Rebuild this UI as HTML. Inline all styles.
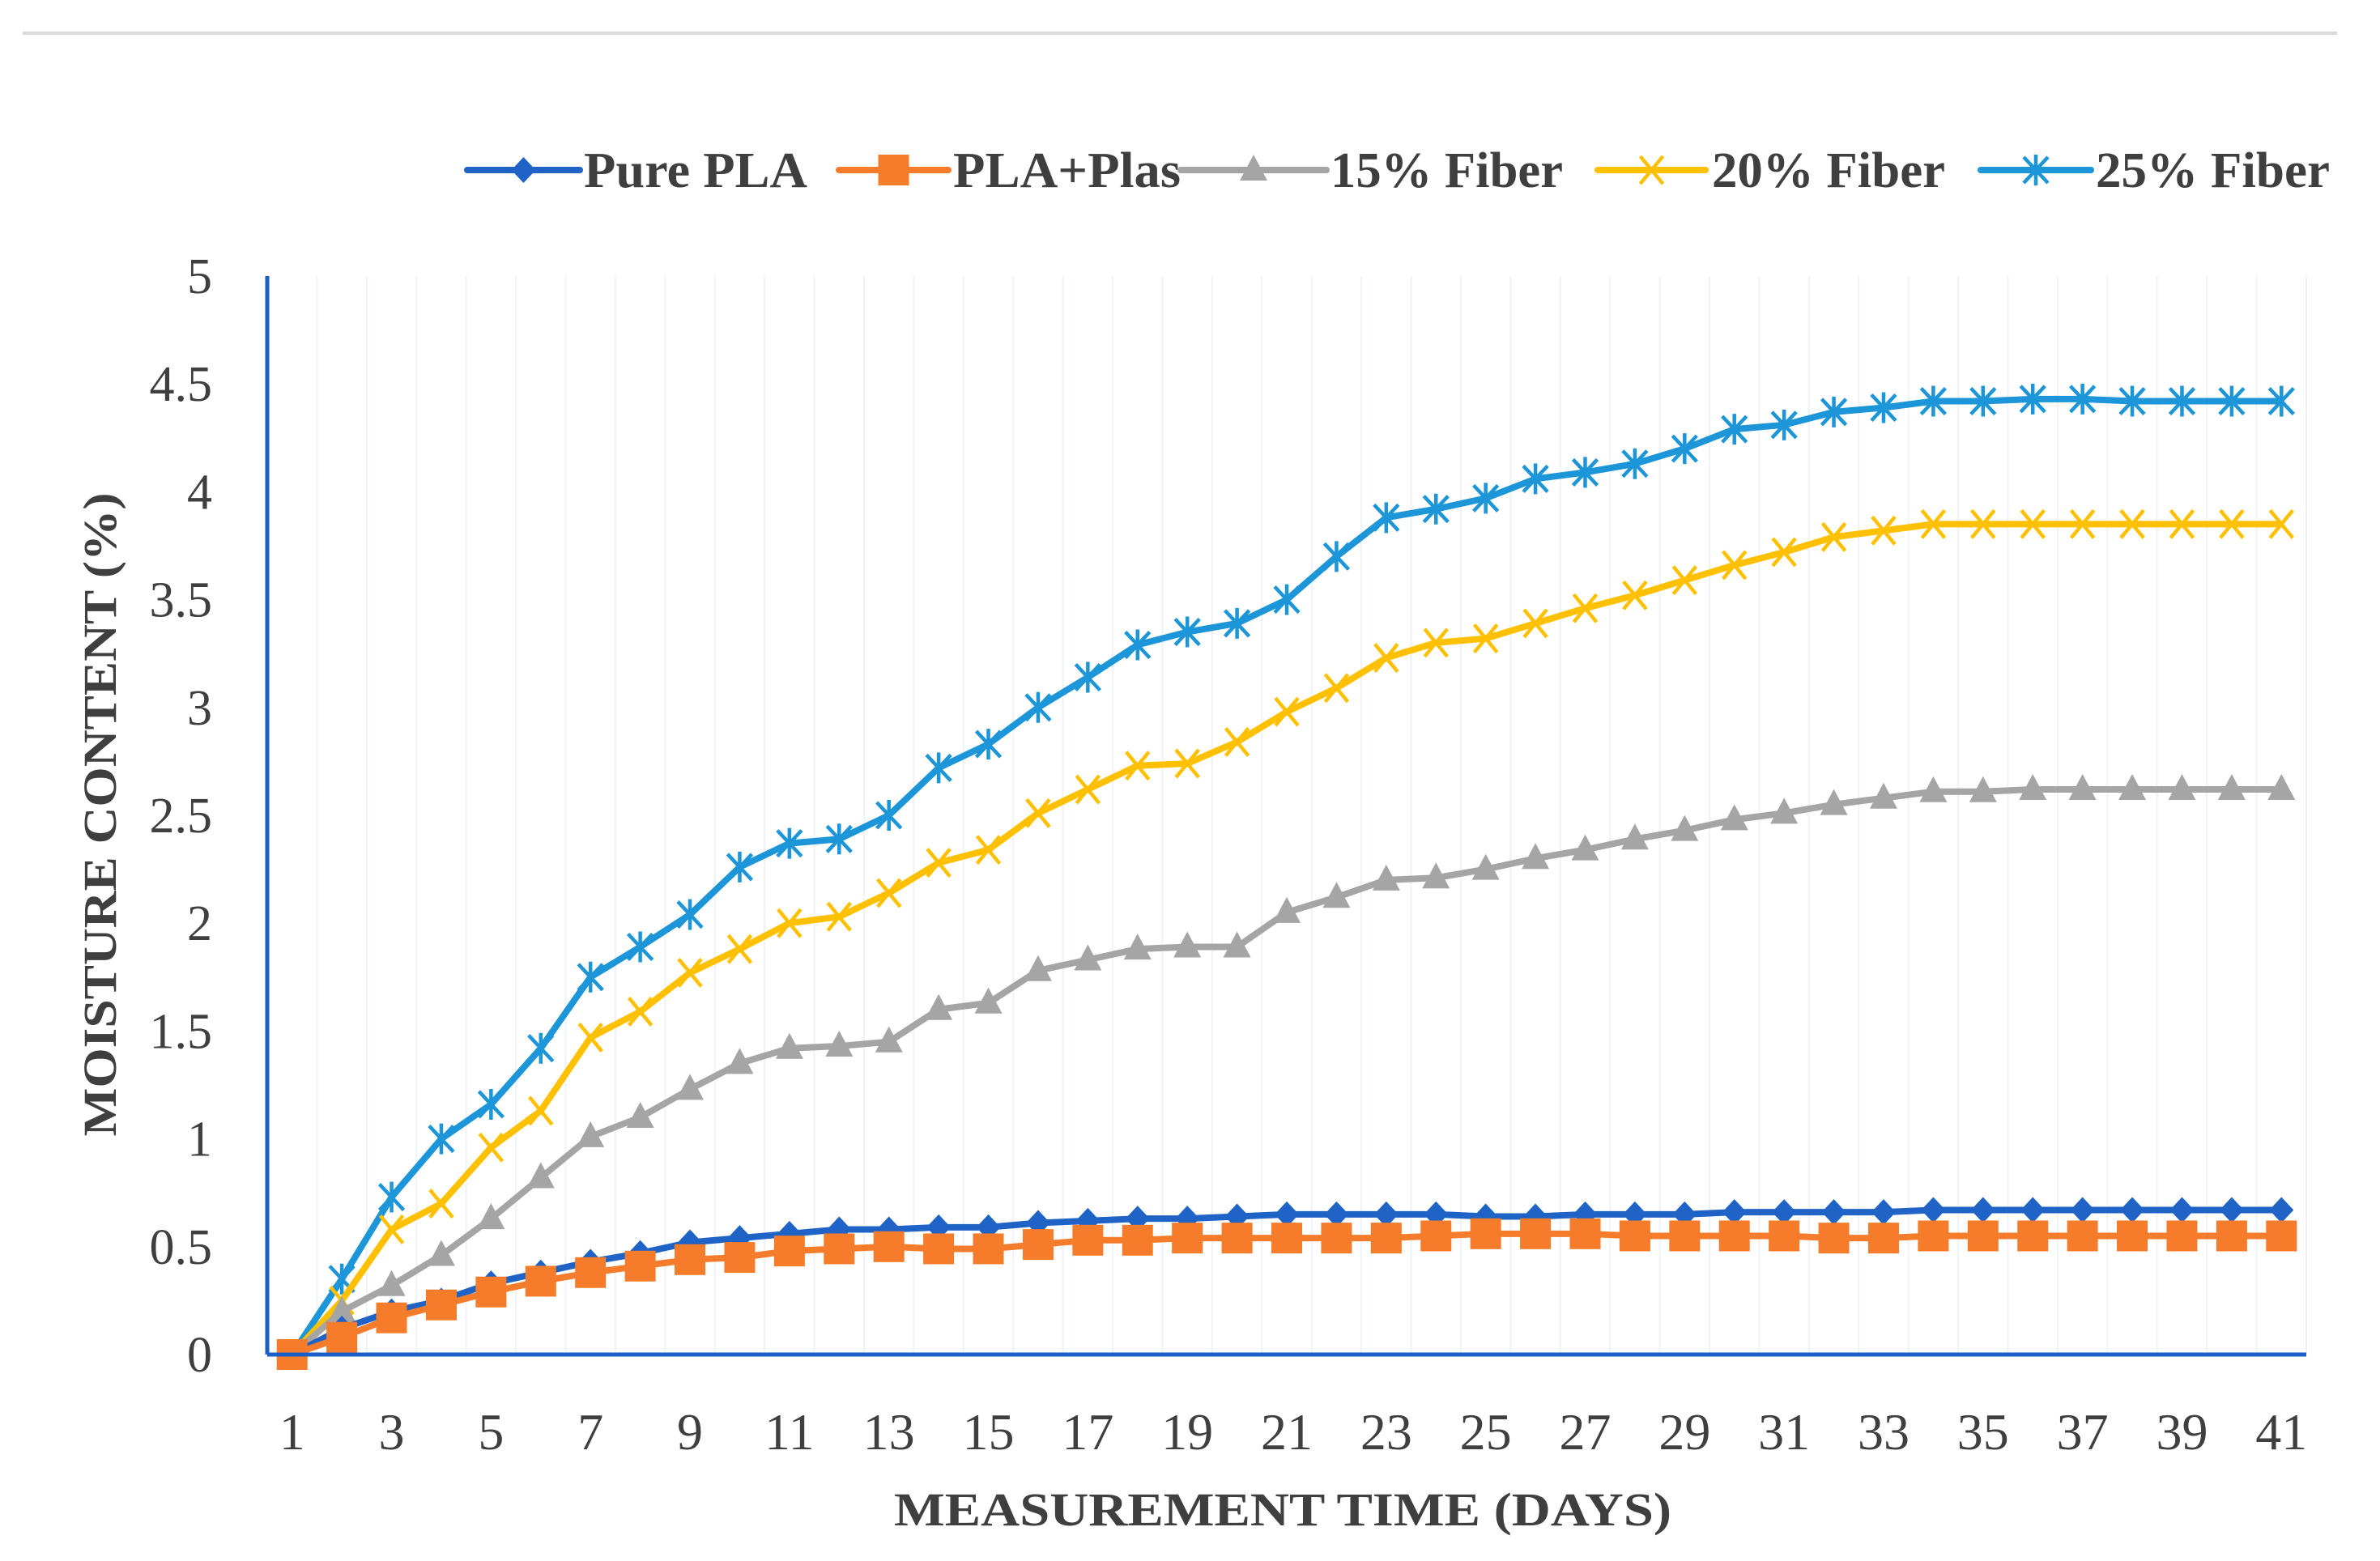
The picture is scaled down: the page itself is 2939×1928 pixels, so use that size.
<!DOCTYPE html>
<html><head><meta charset="utf-8"><style>
html,body{margin:0;padding:0;background:#fff;}
svg{display:block;}
text{font-family:"Liberation Serif",serif;fill:#3f3f3f;}
</style></head><body>
<svg id="chart" width="2939" height="1928" viewBox="0 0 2939 1928" xmlns="http://www.w3.org/2000/svg">
<line x1="28" y1="41" x2="2886" y2="41" stroke="#d9d9d9" stroke-width="4"/>
<g id="grid"></g>
<g id="series"></g>
<g id="axes"></g>
<g id="legend"></g>
<text transform="translate(143,1006) rotate(-90)" text-anchor="middle" font-size="58" font-weight="bold" textLength="795" lengthAdjust="spacingAndGlyphs">MOISTURE CONTENT (%)</text>
<text x="1584" y="1884" text-anchor="middle" font-size="58" font-weight="bold" textLength="960" lengthAdjust="spacingAndGlyphs">MEASUREMENT TIME (DAYS)</text>
</svg>
<script>
const days = Array.from({length:41},(_,i)=>i+1);
const yTicks = [0,0.5,1,1.5,2,2.5,3,3.5,4,4.5,5];
const xTickLabels = [1,3,5,7,9,11,13,15,17,19,21,23,25,27,29,31,33,35,37,39,41];
const seriesNames = ["Pure PLA","PLA+Plas","15% Fiber","20% Fiber","25% Fiber"];
const purePLA = [0,0.12,0.2,0.25,0.33,0.38,0.43,0.47,0.52,0.54,0.56,0.58,0.58,0.59,0.59,0.61,0.62,0.63,0.63,0.64,0.65,0.65,0.65,0.65,0.64,0.64,0.65,0.65,0.65,0.66,0.66,0.66,0.66,0.67,0.67,0.67,0.67,0.67,0.67,0.67,0.67];
const plaPlas = [0,0.08,0.17,0.23,0.29,0.34,0.38,0.41,0.44,0.45,0.48,0.49,0.5,0.49,0.49,0.51,0.53,0.53,0.54,0.54,0.54,0.54,0.54,0.55,0.56,0.56,0.56,0.55,0.55,0.55,0.55,0.54,0.54,0.55,0.55,0.55,0.55,0.55,0.55,0.55,0.55];
const fiber15 = [0,0.2,0.32,0.46,0.63,0.82,1.01,1.1,1.23,1.35,1.42,1.43,1.45,1.6,1.63,1.78,1.83,1.88,1.89,1.89,2.05,2.12,2.2,2.21,2.25,2.3,2.34,2.39,2.43,2.48,2.51,2.55,2.58,2.61,2.61,2.62,2.62,2.62,2.62,2.62,2.62];
const fiber20 = [0,0.25,0.58,0.7,0.96,1.13,1.47,1.59,1.77,1.88,2.0,2.03,2.14,2.28,2.34,2.51,2.62,2.73,2.74,2.84,2.98,3.09,3.23,3.3,3.32,3.39,3.46,3.52,3.59,3.66,3.72,3.79,3.82,3.85,3.85,3.85,3.85,3.85,3.85,3.85,3.85];
const fiber25 = [0,0.35,0.73,1.0,1.16,1.42,1.75,1.89,2.04,2.26,2.37,2.39,2.5,2.72,2.83,3.0,3.14,3.29,3.35,3.39,3.5,3.7,3.88,3.92,3.97,4.06,4.09,4.13,4.2,4.29,4.31,4.37,4.39,4.42,4.42,4.43,4.43,4.42,4.42,4.42,4.42];

const NS="http://www.w3.org/2000/svg";
const L=330,R=2848,T=341,B=1673;
const band=(R-L)/days.length;
function xPos(d){return L+(days.indexOf(d)+0.5)*band;}
function yPos(v){return B-(v/5)*(B-T);}
function mk(tag,attrs,parent){const e=document.createElementNS(NS,tag);for(const k in attrs)e.setAttribute(k,attrs[k]);parent.appendChild(e);return e;}

const grid=document.getElementById('grid');
for(let i=1;i<=days.length;i++){
  const g=mk('line',{x1:L+i*band,x2:L+i*band,y1:T,y2:B,stroke:'#eef3f9','stroke-width':2},grid);
  
  
}
const axes=document.getElementById('axes');
const ya=mk('line',{x1:L,x2:L,y1:T,y2:B,stroke:'#1a5fc8','stroke-width':5},axes);


const xa=mk('line',{x1:L,x2:R,y1:B,y2:B,stroke:'#1a5fc8','stroke-width':5},axes);


yTicks.forEach(v=>{
  const t=mk('text',{x:262,y:yPos(v)+21,'text-anchor':'end','font-size':62},axes);
  t.textContent=String(v);
  
  
});
xTickLabels.forEach(d=>{
  const t=mk('text',{x:xPos(d),y:1790,'text-anchor':'middle','font-size':64},axes);
  t.textContent=String(d);
  
  
});

const colors=['#1f63c6','#f47c2a','#a5a5a5','#ffc000','#1c96d8'];
const markers=['diamond','square','triangle','x','star'];
function drawMarker(type,x,y,c,parent){
  let m;
  if(type==='diamond') m=mk('path',{d:`M${x} ${y-16}L${x+15} ${y}L${x} ${y+16}L${x-15} ${y}Z`,fill:c},parent);
  else if(type==='square') m=mk('rect',{x:x-19,y:y-19,width:38,height:38,fill:c},parent);
  else if(type==='triangle') m=mk('path',{d:`M${x} ${y-19}L${x+17} ${y+13}L${x-17} ${y+13}Z`,fill:c},parent);
  else if(type==='x') m=mk('path',{d:`M${x-14} ${y-17}L${x+14} ${y+17}M${x+14} ${y-17}L${x-14} ${y+17}`,stroke:c,'stroke-width':4.5,fill:'none'},parent);
  else m=mk('path',{d:`M${x-15} ${y-16}L${x+15} ${y+16}M${x+15} ${y-16}L${x-15} ${y+16}M${x} ${y-19}L${x} ${y+19}`,stroke:c,'stroke-width':4.5,fill:'none'},parent);
  return m;
}
const allSeries=[purePLA,plaPlas,fiber15,fiber20,fiber25];
const sg=document.getElementById('series');
const slugs=['pure-pla','pla-plas','fiber-15','fiber-20','fiber-25'];
[4,3,2,0,1].forEach(si=>{
  const vals=allSeries[si];
  const g=mk('g',{},sg);
  
  
  const pts=vals.map((v,i)=>xPos(days[i])+','+yPos(v)).join(' ');
  const pl=mk('polyline',{points:pts,fill:'none',stroke:colors[si],'stroke-width':8,'stroke-linejoin':'round'},g);
  
  
  vals.forEach((v,i)=>{
    const m=drawMarker(markers[si],xPos(days[i]),yPos(v),colors[si],g);
    
    
  });
});

const lg=document.getElementById('legend');
const legendLines=[[577,716],[1036,1171],[1458,1638],[1973,2106],[2446,2582]];
const legendText=[[721,997],[1177,1458],[1643,1930],[2114,2402],[2588,2877]];
seriesNames.forEach((n,i)=>{
  const g=mk('g',{},lg);
  
  
  const [a,b]=legendLines[i];
  mk('line',{x1:a,x2:b,y1:210,y2:210,stroke:colors[i],'stroke-width':8,'stroke-linecap':'round'},g);
  drawMarker(markers[i],(a+b)/2,210,colors[i],g);
  const [ta,tb]=legendText[i];
  const t=mk('text',{x:ta,y:231,'font-size':62,'font-weight':'bold',textLength:tb-ta,lengthAdjust:'spacingAndGlyphs'},g);
  t.textContent=n;
  
  
});
</script>
</body></html>
